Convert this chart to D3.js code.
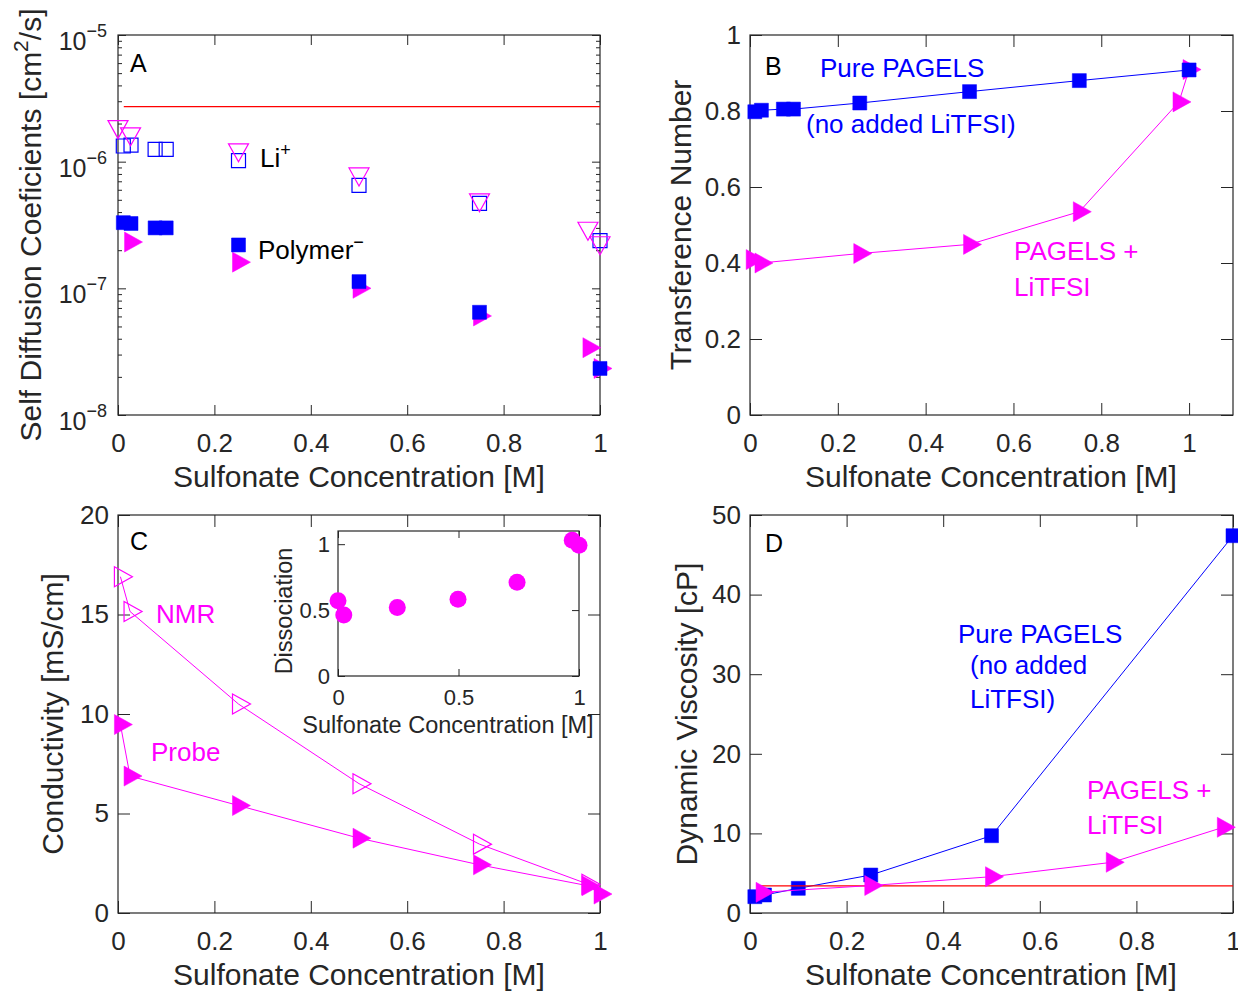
<!DOCTYPE html>
<html>
<head>
<meta charset="utf-8">
<script src="https://cdn.jsdelivr.net/npm/d3@7"></script>
<style>
  body { margin: 0; background: #fff; }
  text { font-family: "Liberation Sans", Arial, Helvetica, sans-serif; }
</style>
</head>
<body>
<svg id="fig" width="1238" height="992"></svg>
<script>
// ---- data (x = sulfonate concentration [M]) ----
// panel A: self diffusion coefficients [cm^2/s]
var diffLiNmr   = [[0.0,1.89e-6],[0.026,1.66e-6],[0.25,1.24e-6],[0.5,8.0e-7],[0.75,5.0e-7],[0.975,2.98e-7],[1.0,2.29e-7]];
var diffLiPure  = [[0.011,1.33e-6],[0.027,1.35e-6],[0.077,1.25e-6],[0.1,1.25e-6],[0.25,1.02e-6],[0.5,6.5e-7],[0.75,4.69e-7],[1.0,2.38e-7]];
var diffPolPure = [[0.011,3.3e-7],[0.027,3.25e-7],[0.077,3.0e-7],[0.1,3.0e-7],[0.25,2.2e-7],[0.5,1.13e-7],[0.75,6.47e-8],[1.0,2.33e-8]];
var diffPolLi   = [[0.026,2.32e-7],[0.25,1.61e-7],[0.5,1.0e-7],[0.75,6.05e-8],[0.977,3.4e-8],[1.0,2.33e-8]];
var diffRef     = [[0.012,2.72e-6],[1.0,2.72e-6]];

// panel B: transference number
var transPure = [[0.011,0.798],[0.026,0.802],[0.076,0.805],[0.099,0.805],[0.25,0.821],[0.5,0.851],[0.75,0.88],[1.0,0.908]];
var transLi   = [[0.005,0.409],[0.025,0.40],[0.25,0.425],[0.5,0.449],[0.75,0.535],[0.977,0.824],[1.0,0.909]];

// panel C: conductivity [mS/cm] and inset dissociation
var condNmr   = [[0.005,16.9],[0.025,15.15],[0.25,10.5],[0.5,6.5],[0.75,3.46],[0.975,1.45]];
var condProbe = [[0.005,9.47],[0.025,6.88],[0.25,5.4],[0.5,3.76],[0.75,2.42],[0.975,1.37],[1.0,0.95]];
var dissoc    = [[0.0,0.57],[0.024,0.463],[0.246,0.519],[0.498,0.583],[0.743,0.711],[0.972,1.03],[1.0,0.992]];

// panel D: dynamic viscosity [cP]
var viscPure = [[0.01,2.05],[0.03,2.26],[0.1,3.1],[0.25,4.77],[0.5,9.71],[1.0,47.4]];
var viscLi   = [[0.025,2.6],[0.25,3.45],[0.5,4.56],[0.75,6.37],[0.98,10.77]];
var viscRef  = [[0.014,3.4],[1.0,3.4]];

var xTicks    = [0, 0.2, 0.4, 0.6, 0.8, 1];
var logMajors = [1e-8, 1e-7, 1e-6, 1e-5];

var INK = "#262626", BLUE = "#0000ff", MAG = "#ff00ff", RED = "#ff0000";

var svg = d3.select("#fig");
svg.append("rect").attr("width", 1238).attr("height", 992).attr("fill", "#fff");

function fmt(d) { return String(Math.round(d * 10) / 10); }

function styleAxis(sel, fs) {
  sel.attr("font-family", null).attr("font-size", null);
  sel.select(".domain").remove();
  sel.selectAll("line").attr("stroke", INK).attr("stroke-width", 1);
  sel.selectAll("text").attr("fill", INK).style("font-size", fs + "px");
}

function panel(p) {
  var g = svg.append("g").attr("transform", "translate(" + p.left + "," + p.top + ")");
  var x = d3.scaleLinear().domain(p.xDomain).range([0, p.w]);
  var y = (p.log ? d3.scaleLog() : d3.scaleLinear()).domain(p.yDomain).range([p.h, 0]);
  var fs = p.fs, tl = p.tickLen;

  g.append("g").attr("transform", "translate(0," + p.h + ")")
    .call(d3.axisBottom(x).tickValues(p.xTicks).tickFormat(fmt).tickSizeInner(-tl).tickSizeOuter(0).tickPadding(p.xPad))
    .call(styleAxis, fs);
  g.append("g")
    .call(d3.axisTop(x).tickValues(p.xTicks).tickFormat("").tickSizeInner(-tl).tickSizeOuter(0))
    .call(styleAxis, fs);

  if (!p.log) {
    g.append("g")
      .call(d3.axisLeft(y).tickValues(p.yTicks).tickFormat(fmt).tickSizeInner(-tl).tickSizeOuter(0).tickPadding(p.yPad))
      .call(styleAxis, fs);
    g.append("g").attr("transform", "translate(" + p.w + ",0)")
      .call(d3.axisRight(y).tickValues(p.yTicks).tickFormat("").tickSizeInner(-tl).tickSizeOuter(0))
      .call(styleAxis, fs);
  } else {
    var minors = [];
    logMajors.slice(0, -1).forEach(function (m) { for (var k = 2; k < 10; k++) minors.push(m * k); });
    [[d3.axisLeft, 0], [d3.axisRight, p.w]].forEach(function (a) {
      g.append("g").attr("transform", "translate(" + a[1] + ",0)")
        .call(a[0](y).tickValues(logMajors).tickFormat("").tickSizeInner(-8).tickSizeOuter(0))
        .call(styleAxis, fs);
      g.append("g").attr("transform", "translate(" + a[1] + ",0)")
        .call(a[0](y).tickValues(minors).tickFormat("").tickSizeInner(-4).tickSizeOuter(0))
        .call(styleAxis, fs);
    });
    // 10^n labels
    logMajors.forEach(function (m) {
      var t = g.append("text").attr("x", -11).attr("y", y(m) + 15)
        .attr("text-anchor", "end").attr("fill", INK).style("font-size", "25px");
      t.append("tspan").text("10");
      t.append("tspan").attr("dy", -13).style("font-size", "18px").text("\u2212" + Math.round(-Math.log10(m)));
    });
  }
  g.append("rect").attr("width", p.w).attr("height", p.h)
    .attr("fill", "none").attr("stroke", INK).attr("stroke-width", 1.2);
  return { g: g, x: x, y: y };
}

var shapes = {
  square: "M-7,-7H7V7H-7Z",
  triRight: "M-6,-10L-6,10L12,0Z",
  triDown: "M-10,-6L10,-6L0,12Z"
};

function markers(ax, data, shape, color, filled) {
  var g = ax.g.append("g");
  if (shape === "circle") {
    g.selectAll("circle").data(data).join("circle")
      .attr("cx", function (d) { return ax.x(d[0]); })
      .attr("cy", function (d) { return ax.y(d[1]); })
      .attr("r", 8.5).attr("fill", color);
    return;
  }
  g.selectAll("path").data(data).join("path")
    .attr("transform", function (d) { return "translate(" + ax.x(d[0]) + "," + ax.y(d[1]) + ")"; })
    .attr("d", shapes[shape])
    .attr("fill", filled ? color : "none")
    .attr("stroke", color).attr("stroke-width", filled ? 0.5 : 1.2);
}

function line(ax, data, color, w) {
  ax.g.append("path").datum(data)
    .attr("d", d3.line().x(function (d) { return ax.x(d[0]); }).y(function (d) { return ax.y(d[1]); }))
    .attr("fill", "none").attr("stroke", color).attr("stroke-width", w || 1);
}

// text helper: parts = [[string, superscript?], ...]
function label(x, y, parts, color, size, opts) {
  opts = opts || {};
  var t = svg.append("text").attr("x", x).attr("y", y)
    .attr("fill", color).style("font-size", size + "px")
    .attr("text-anchor", opts.anchor || "start");
  if (opts.rotate) t.attr("transform", "rotate(-90," + x + "," + y + ")");
  var up = 0;
  parts.forEach(function (p) {
    var s = t.append("tspan").text(p[0]);
    if (p[1] && !up) { s.attr("dy", -Math.round(size * 0.42)).style("font-size", Math.round(size * 0.7) + "px"); up = 1; }
    else if (!p[1] && up) { s.attr("dy", Math.round(size * 0.42)); up = 0; }
  });
  return t;
}

var xLab = [["Sulfonate Concentration [M]"]];

// ---- panel A ----
var A = panel({ left: 118, top: 35, w: 482, h: 380, xDomain: [0, 1], yDomain: [1e-8, 1e-5], log: true,
  xTicks: xTicks, tickLen: 10, fs: 26, xPad: 18.5 });
line(A, diffRef, RED, 1.3);
markers(A, diffLiPure, "square", BLUE, false);
markers(A, diffLiNmr, "triDown", MAG, false);
markers(A, diffPolLi, "triRight", MAG, true);
markers(A, diffPolPure, "square", BLUE, true);
label(130, 72, [["A"]], "#000", 25);
label(260, 167, [["Li"], ["+", 1]], "#000", 26);
label(258, 259, [["Polymer"], ["\u2212", 1]], "#000", 26);
label(359, 487, xLab, INK, 30, { anchor: "middle" });
label(41, 225, [["Self Diffusion Coeficients [cm"], ["2", 1], ["/s]"]], INK, 30, { anchor: "middle", rotate: true });

// ---- panel B ----
var B = panel({ left: 750, top: 35, w: 483, h: 380, xDomain: [0, 1.1], yDomain: [0, 1],
  xTicks: xTicks, yTicks: [0, 0.2, 0.4, 0.6, 0.8, 1], tickLen: 12, fs: 26, xPad: 18.5, yPad: 9 });
line(B, transLi, MAG);
markers(B, transLi, "triRight", MAG, true);
line(B, transPure, BLUE);
markers(B, transPure, "square", BLUE, true);
label(765, 75, [["B"]], "#000", 25);
label(820, 77, [["Pure PAGELS"]], BLUE, 26);
label(806, 133, [["(no added LiTFSI)"]], BLUE, 26);
label(1014, 260, [["PAGELS +"]], MAG, 26);
label(1014, 296, [["LiTFSI"]], MAG, 26);
label(991, 487, xLab, INK, 30, { anchor: "middle" });
label(691, 225, [["Transference Number"]], INK, 30, { anchor: "middle", rotate: true });

// ---- panel C ----
var C = panel({ left: 118, top: 515, w: 482, h: 398, xDomain: [0, 1], yDomain: [0, 20],
  xTicks: xTicks, yTicks: [0, 5, 10, 15, 20], tickLen: 12, fs: 26, xPad: 18.5, yPad: 9 });
line(C, condNmr, MAG);
markers(C, condNmr, "triRight", MAG, false);
line(C, condProbe, MAG);
markers(C, condProbe, "triRight", MAG, true);
label(130, 550, [["C"]], "#000", 25);
label(156, 623, [["NMR"]], MAG, 26);
label(151, 761, [["Probe"]], MAG, 26);
label(359, 985, xLab, INK, 30, { anchor: "middle" });
label(63, 714, [["Conductivity [mS/cm]"]], INK, 30, { anchor: "middle", rotate: true });

// inset
var I = panel({ left: 338, top: 531, w: 241, h: 145, xDomain: [0, 1], yDomain: [0, 1.1],
  xTicks: [0, 0.5, 1], yTicks: [0, 0.5, 1], tickLen: 7, fs: 22, xPad: 13, yPad: 8 });
markers(I, dissoc, "circle", MAG, true);
label(448, 733, xLab, INK, 23.5, { anchor: "middle" });
label(292, 611, [["Dissociation"]], INK, 23.5, { anchor: "middle", rotate: true });

// ---- panel D ----
var D = panel({ left: 750, top: 515, w: 483, h: 398, xDomain: [0, 1], yDomain: [0, 50],
  xTicks: xTicks, yTicks: [0, 10, 20, 30, 40, 50], tickLen: 12, fs: 26, xPad: 18.5, yPad: 9 });
line(D, viscPure, BLUE);
markers(D, viscPure, "square", BLUE, true);
line(D, viscRef, RED, 1.3);
line(D, viscLi, MAG);
markers(D, viscLi, "triRight", MAG, true);
label(765, 552, [["D"]], "#000", 25);
label(958, 643, [["Pure PAGELS"]], BLUE, 26);
label(970, 674, [["(no added"]], BLUE, 26);
label(970, 708, [["LiTFSI)"]], BLUE, 26);
label(1087, 799, [["PAGELS +"]], MAG, 26);
label(1087, 834, [["LiTFSI"]], MAG, 26);
label(991, 985, xLab, INK, 30, { anchor: "middle" });
label(697, 714, [["Dynamic Viscosity [cP]"]], INK, 30, { anchor: "middle", rotate: true });
</script>
</body>
</html>
